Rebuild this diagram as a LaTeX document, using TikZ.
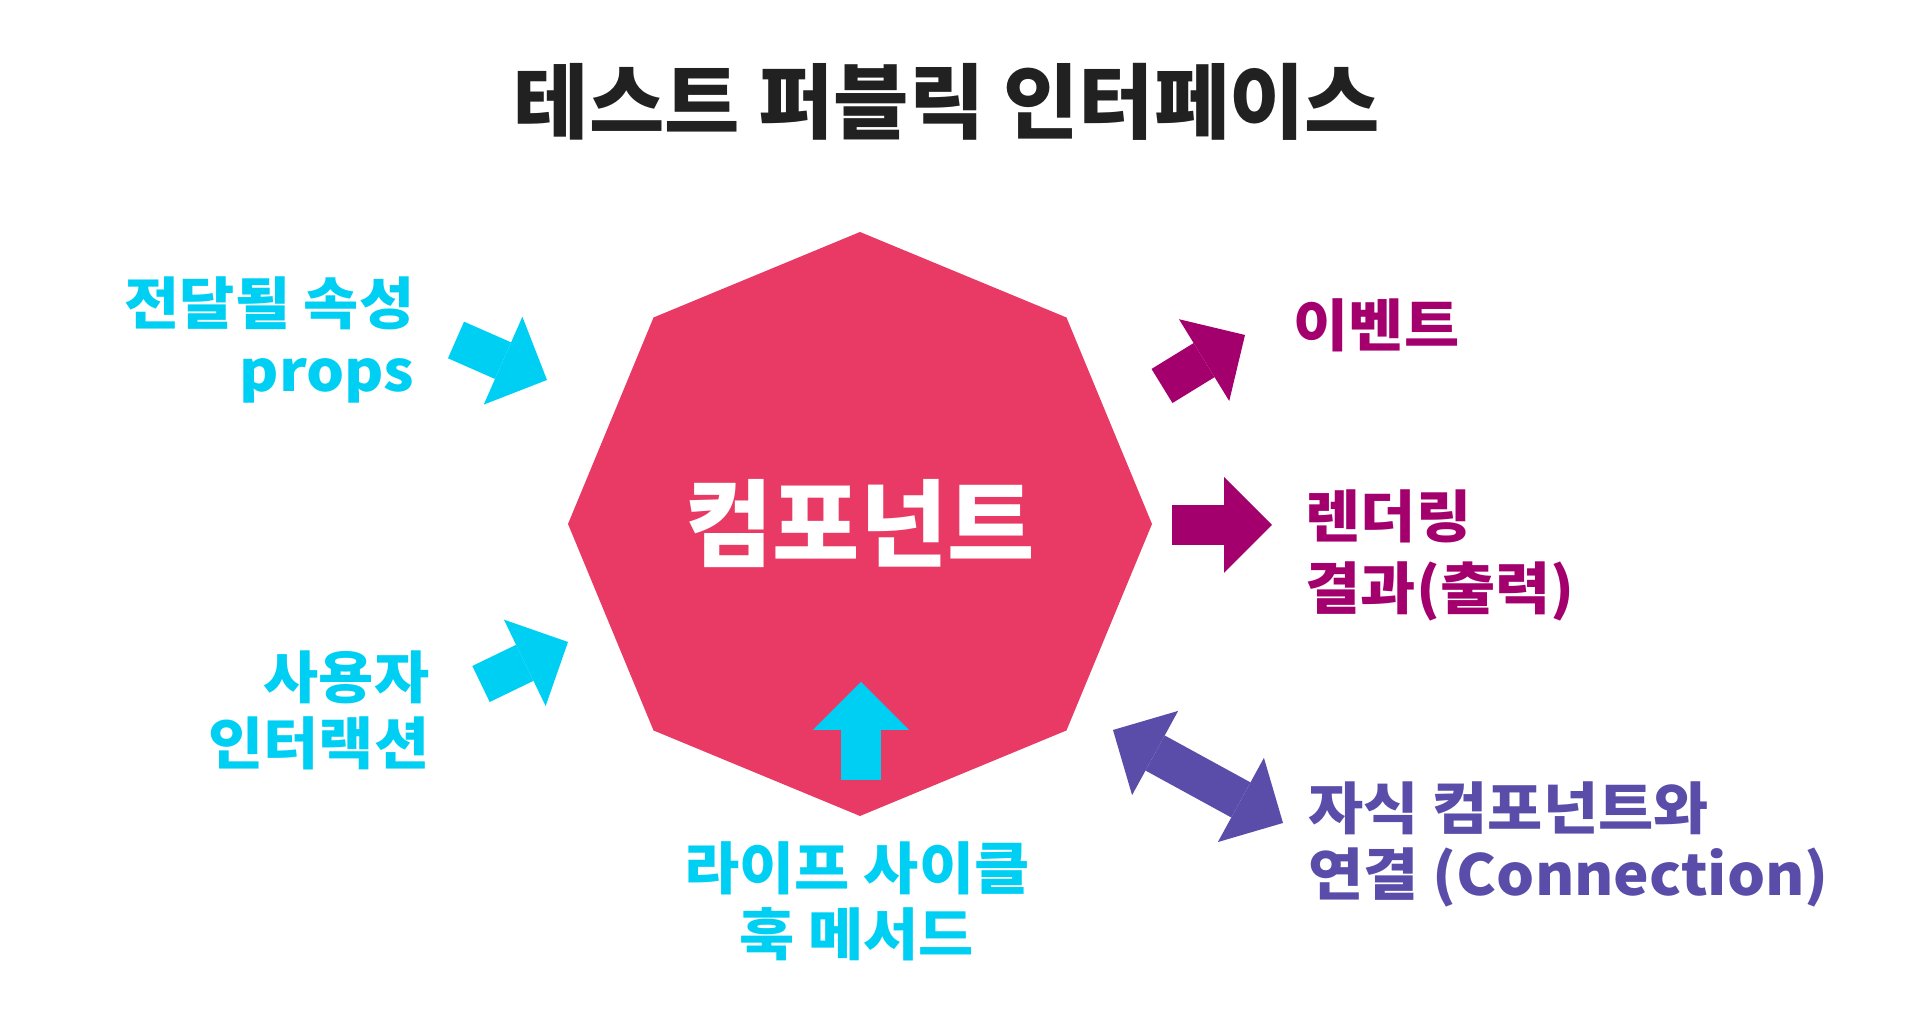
\documentclass[tikz,border=0pt]{standalone}
\usepackage{fontspec}
\newfontfamily\krfont{Noto Sans CJK KR}[FakeStretch=1.06]
\newfontfamily\krtitle{Noto Sans CJK KR}
\usetikzlibrary{shapes.geometric, arrows.meta}

\definecolor{compred}{HTML}{E83A64}
\definecolor{inblue}{HTML}{00CFF4}
\definecolor{outpink}{HTML}{A3006E}
\definecolor{linkpurple}{HTML}{5A4DA9}

\begin{document}
\begin{tikzpicture}
% Define styles
\tikzstyle{sidetext} = [font=\krfont\bfseries\fontsize{16.1}{18.8}\selectfont, inner sep=0pt]
\tikzstyle{blockarrow} = [line width=0.4cm, -{Triangle[length=0.48cm, width=0.96cm, line width=0pt 0 0]}]
\tikzstyle{twoway} = [line width=0.4cm, {Triangle[length=0.48cm, width=0.96cm, line width=0pt 0 0]}-{Triangle[length=0.48cm, width=0.96cm, line width=0pt 0 0]}]

\useasboundingbox (0,0) rectangle (19.13,10.17);

% Title
\node[font=\krtitle\bfseries\fontsize{23.3}{27}\selectfont, text=black!87] (title) at (9.47,9.15) {테스트 퍼블릭 인터페이스};

% Center - component octagon
\node[regular polygon, regular polygon sides=8, shape border rotate=22.5, minimum size=5.84cm, inner sep=0pt, fill=compred, text=white, font=\krtitle\bfseries\fontsize{27}{30}\selectfont] (comp) at (8.60,4.93) {컴포넌트};

% Inputs (left and bottom)
\node[sidetext, text=inblue, align=right, anchor=east] (props) at (4.15,6.77) {전달될 속성\\props};
\node[sidetext, text=inblue, align=right, anchor=east] (user) at (4.30,3.07) {사용자\\인터랙션};
\node[sidetext, text=inblue, align=center] (life) at (8.57,1.16) {라이프 사이클\\훅 메서드};

\coordinate (propstail) at (4.56,6.77);
\coordinate (propstip) at (5.47,6.37);
\coordinate (usertail) at (4.81,3.33);
\coordinate (usertip) at (5.68,3.75);
\coordinate (lifetail) at (8.61,2.37);
\coordinate (lifetip) at (8.61,3.35);

\draw[blockarrow, inblue] (propstail) -- (propstip);
\draw[blockarrow, inblue] (usertail) -- (usertip);
\draw[blockarrow, inblue] (lifetail) -- (lifetip);

% Outputs (right)
\node[sidetext, text=outpink, anchor=west] (event) at (12.93,6.92) {이벤트};
\node[sidetext, text=outpink, align=left, anchor=west, font=\krfont\bfseries\fontsize{16.1}{20.5}\selectfont] (render) at (13.05,4.62) {렌더링\\결과(출력)};
\node[sidetext, text=linkpurple, align=left, anchor=west] (child) at (13.08,1.73) {자식 컴포넌트와\\연결 (Connection)};

\coordinate (eventtail) at (11.62,6.31);
\coordinate (eventtip) at (12.45,6.82);
\coordinate (rendertail) at (11.72,4.92);
\coordinate (rendertip) at (12.72,4.92);
\coordinate (childnear) at (11.13,2.87);
\coordinate (childfar) at (12.83,1.94);

\draw[blockarrow, outpink] (eventtail) -- (eventtip);
\draw[blockarrow, outpink] (rendertail) -- (rendertip);
\draw[twoway, linkpurple] (childnear) -- (childfar);

\end{tikzpicture}
\end{document}
